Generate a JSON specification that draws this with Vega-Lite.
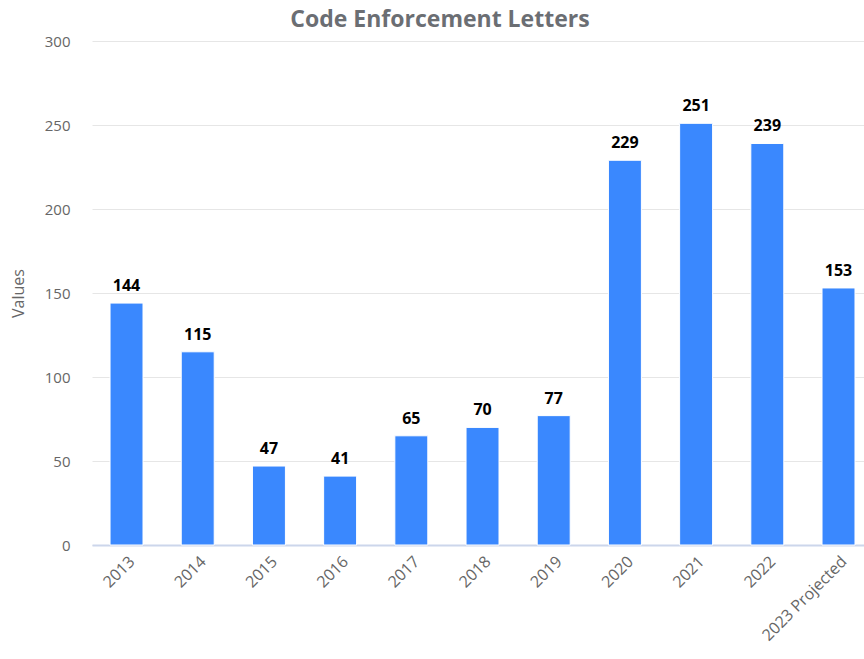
{
  "$schema": "https://vega.github.io/schema/vega-lite/v6.json",
  "autosize": "none",
  "width": 772,
  "height": 504,
  "padding": {"left": 92, "top": 41, "right": 0, "bottom": 114},
  "background": "white",
  "title": {
    "text": "Code Enforcement Letters",
    "font": "Open Sans",
    "fontSize": 23,
    "fontWeight": "bold",
    "color": "#6b6e73",
    "anchor": "middle",
    "frame": "group",
    "dx": -38,
    "offset": 2
  },
  "data": {
    "values": [
      {"year": "2013", "value": 144},
      {"year": "2014", "value": 115},
      {"year": "2015", "value": 47},
      {"year": "2016", "value": 41},
      {"year": "2017", "value": 65},
      {"year": "2018", "value": 70},
      {"year": "2019", "value": 77},
      {"year": "2020", "value": 229},
      {"year": "2021", "value": 251},
      {"year": "2022", "value": 239},
      {"year": "2023 Projected", "value": 153}
    ]
  },
  "config": {
    "view": {"stroke": null},
    "font": "Open Sans"
  },
  "encoding": {
    "x": {
      "field": "year",
      "type": "nominal",
      "sort": null,
      "scale": {"paddingInner": 0.537, "paddingOuter": 0.19, "align": 0.667},
      "axis": {
        "title": null,
        "labelAngle": -45,
        "labelAlign": "right",
        "labelBaseline": "top",
        "labelFontSize": 16,
        "labelColor": "#666666",
        "labelFont": "Open Sans",
        "labelPadding": 8,
        "ticks": false,
        "domainColor": "#ccd6eb",
        "domainWidth": 2,
        "grid": false
      }
    },
    "y": {
      "field": "value",
      "type": "quantitative",
      "scale": {"domain": [0, 300], "nice": false},
      "axis": {
        "title": "Values",
        "titleFont": "Open Sans",
        "titleFontSize": 16,
        "titleFontWeight": "normal",
        "titleColor": "#666666",
        "titlePadding": 18,
        "values": [0, 50, 100, 150, 200, 250, 300],
        "labelFontSize": 15,
        "labelColor": "#666666",
        "labelFont": "Open Sans",
        "labelPadding": 22,
        "ticks": false,
        "domain": false,
        "grid": true,
        "gridColor": "#e6e6e6",
        "gridWidth": 1
      }
    }
  },
  "layer": [
    {
      "mark": {"type": "bar", "color": "#3a88fe", "stroke": "white", "strokeWidth": 1}
    },
    {
      "mark": {"type": "text", "dy": -9, "fontSize": 16, "fontWeight": "bold", "color": "black", "font": "Open Sans", "baseline": "bottom"},
      "encoding": {"text": {"field": "value", "type": "quantitative"}}
    }
  ]
}
